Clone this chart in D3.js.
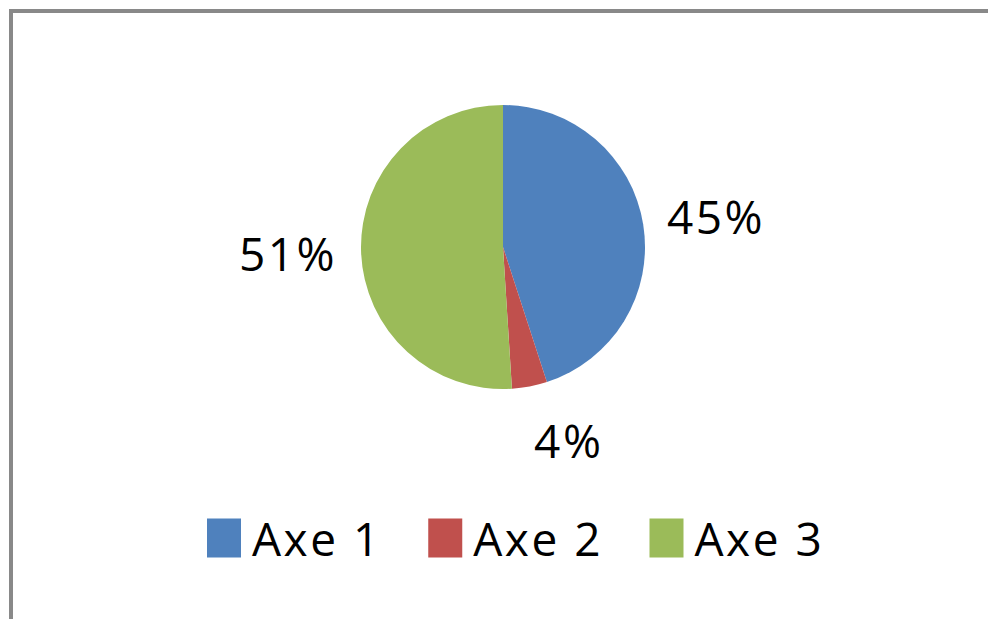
<!DOCTYPE html>
<html><head><meta charset="utf-8">
<script src="https://cdn.jsdelivr.net/npm/d3@7"></script>
<style>html,body{margin:0;padding:0;background:#fff;}</style>
</head><body>
<svg id="c" width="988" height="619"></svg>
<script>
const categories = ["Axe 1", "Axe 2", "Axe 3"];
const values = [45, 4, 51];
const labels = ["45%", "4%", "51%"];
const colors = ["#4F81BD", "#C0504D", "#9BBB59"];

const svg = d3.select("#c");
const W = 988, H = 619;
svg.append("rect").attr("x", 0).attr("y", 0).attr("width", W).attr("height", H).attr("fill", "#fff");
svg.append("rect").attr("x", 11).attr("y", 11).attr("width", W + 20).attr("height", H + 20)
  .attr("fill", "none").attr("stroke", "#898989").attr("stroke-width", 4);

const cx = 503, cy = 247, r = 142;
const font = "'Open Sans', Lato, sans-serif";
const fs = 46;
const ls = 2.5;

const pie = d3.pie().sort(null).value(d => d);
const arcs = pie(values);
const arc = d3.arc().innerRadius(0).outerRadius(r);
const g = svg.append("g").attr("transform", `translate(${cx},${cy})`);
g.selectAll("path").data(arcs).join("path")
  .attr("d", arc).attr("fill", (d, i) => colors[i]);

const labelR = 166;
arcs.forEach((d, i) => {
  const a = (d.startAngle + d.endAngle) / 2;
  const t = g.append("text").text(labels[i])
    .attr("font-family", font).attr("font-size", fs).attr("letter-spacing", ls)
    .attr("fill", "#000").attr("text-anchor", "middle").attr("dominant-baseline", "central");
  const w = t.node().getComputedTextLength(), h = 60;
  const s = Math.sin(a);
  const x = labelR * s + Math.sign(s) * (w / 2);
  const y = -labelR * Math.cos(a) - (h / 2) * Math.cos(a);
  t.attr("x", x).attr("y", y);
});

// legend
const legendY = 538;
const sw = 34, sh = 39;
const lg = svg.append("g");
let x = 207;
const gapAfter = 49;
categories.forEach((c, i) => {
  lg.append("rect").attr("x", x).attr("y", legendY - sh / 2).attr("width", sw).attr("height", sh).attr("fill", colors[i]);
  const t = lg.append("text").text(c).attr("x", x + sw + 11).attr("y", legendY)
    .attr("font-family", font).attr("font-size", fs).attr("letter-spacing", ls)
    .attr("dominant-baseline", "central").attr("fill", "#000");
  x = x + sw + 11 + t.node().getComputedTextLength() + gapAfter - ls;
});
</script>
</body></html>
